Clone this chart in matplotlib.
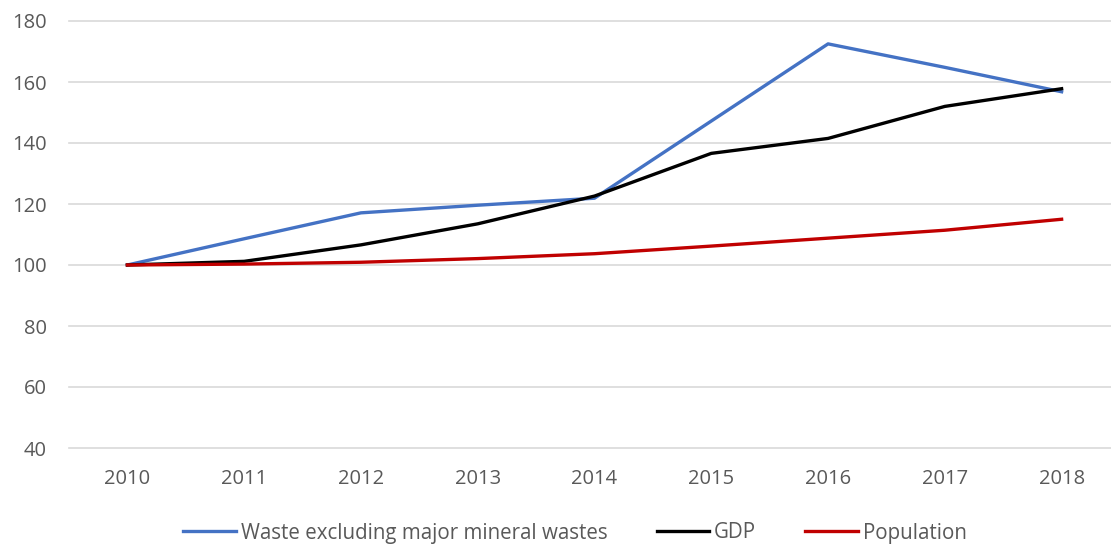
import matplotlib.pyplot as plt
plt.switch_backend("Agg")

years = ['2010', '2011', '2012', '2013', '2014', '2015', '2016', '2017', '2018']
waste = [100, 108.6, 117.1, 119.6, 121.9, 147.2, 172.5, 164.8, 156.8]
gdp = [100, 101.2, 106.6, 113.5, 122.6, 136.6, 141.5, 152.0, 157.8]
population = [100, 100.3, 100.9, 102.1, 103.7, 106.2, 108.8, 111.4, 115.0]

plt.rcParams['font.family'] = ['Open Sans', 'DejaVu Sans']
txt = '#595959'

fig = plt.figure(figsize=(11.11, 5.5), dpi=100)
ax = fig.add_axes([69 / 1111, (550 - 448) / 550, (1120 - 69) / 1111, (448 - 21) / 550])

x = range(len(years))
ax.plot(x, waste, color='#4472C4', lw=2.4, label='Waste excluding major mineral wastes')
ax.plot(x, gdp, color='black', lw=2.4, label='GDP')
ax.plot(x, population, color='#C00000', lw=2.4, label='Population')

ax.set_xlim(-0.5, 8.5)
ax.set_ylim(40, 180)
ax.set_yticks(range(40, 181, 20))
ax.set_xticks(list(x))
ax.set_xticklabels(years)
ax.grid(axis='y', color='#D9D9D9', lw=1.2)
for gl in ax.get_ygridlines():
    gl.set_clip_on(False)
ax.set_axisbelow(True)
for s in ax.spines.values():
    s.set_visible(False)
ax.tick_params(length=0, labelsize=14.5, colors=txt)
ax.tick_params(axis='x', pad=15)
ax.tick_params(axis='y', pad=16)

leg = fig.legend(loc='center', bbox_to_anchor=(575 / 1111, 1 - 533 / 550), ncol=3,
                 frameon=False, fontsize=14.8, handlelength=2.55, handletextpad=0.25,
                 columnspacing=2.4)
for t in leg.get_texts():
    t.set_color(txt)

fig.savefig('out.png', dpi=100)
